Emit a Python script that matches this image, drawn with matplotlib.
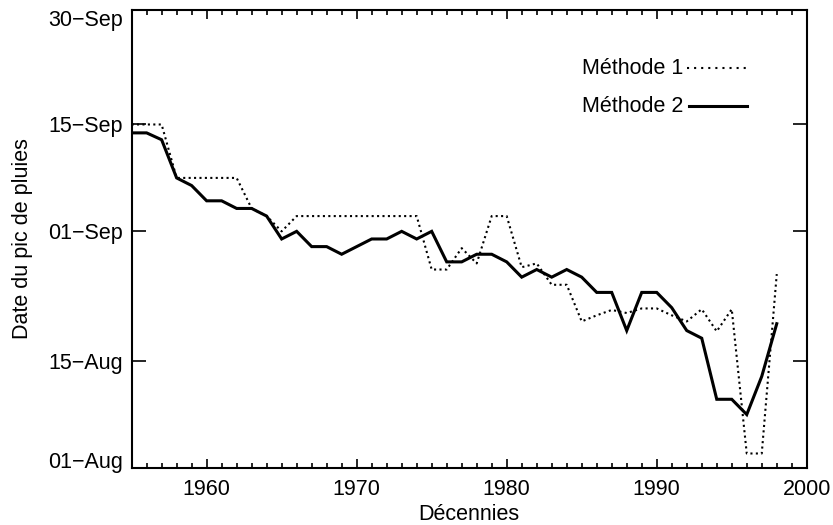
import numpy as np
import matplotlib
matplotlib.use("Agg")
import matplotlib.pyplot as plt
from matplotlib.ticker import MultipleLocator, FixedLocator

# ── Data (days after 01-Aug) ─────────────────────────────────────────────────
YEARS = list(range(1955, 1999))

METHODE_1 = [45, 45, 45, 38, 38, 38, 38, 38, 34, 33,
             31, 33, 33, 33, 33, 33, 33, 33, 33, 33,
             26, 26, 28.8, 26.8, 33, 33, 26.3, 26.8, 24, 24,
             19.2, 20, 20.7, 20.3, 20.9, 20.9, 20, 19.2, 20.8, 17.9,
             20.8, 1.9, 1.9, 25.4]

METHODE_2 = [43.9, 43.9, 43, 38, 37, 35, 35, 34, 34, 33,
             30, 31, 29, 29, 28, 29, 30, 30, 31, 30,
             31, 27, 27, 28, 28, 27, 25, 26, 25, 26,
             25, 23, 23, 18, 23, 23, 21, 18, 17, 9,
             9, 7, 12, 18.9]

YTICKS  = [0, 14, 31, 45, 60]
YLABELS = ["01\u2212Aug", "15\u2212Aug", "01\u2212Sep", "15\u2212Sep", "30\u2212Sep"]

# ── Style ─────────────────────────────────────────────────────────────────────
plt.rcParams["font.family"] = ["Liberation Sans", "DejaVu Sans"]
plt.rcParams["font.size"] = 15.5

fig = plt.figure(figsize=(8.33, 5.25), dpi=100)
ax = fig.add_axes([0.158, 0.1086, 0.8105, 0.8724])

ax.plot(YEARS, METHODE_1, color="black", lw=1.5,
        linestyle=(0, (1, 1.6)), dash_capstyle="butt")
ax.plot(YEARS, METHODE_2, color="black", lw=2.2, solid_joinstyle="miter")

ax.set_xlim(1955, 2000)
ax.set_ylim(0, 60)

ax.xaxis.set_major_locator(MultipleLocator(10))
ax.xaxis.set_minor_locator(MultipleLocator(1))
ax.yaxis.set_major_locator(FixedLocator(YTICKS))
ax.set_yticklabels(YLABELS)

ax.tick_params(axis="x", which="major", direction="in", length=6.5, width=1.2,
               top=True, pad=8)
ax.tick_params(axis="x", which="minor", direction="in", length=3.6, width=1.2,
               top=True)
ax.tick_params(axis="y", which="major", direction="in", length=10, width=1.2,
               right=True, pad=6)

labels = ax.get_yticklabels()
labels[0].set_va("baseline")
labels[-1].set_va("top")

for sp in ax.spines.values():
    sp.set_linewidth(1.5)

ax.set_xlabel("Décennies", labelpad=3)
ax.set_ylabel("Date du pic de pluies", labelpad=11)

# ── Legend (text, then line sample) ─────────────────────────────────────────
ax.text(0.667, 0.873, "Méthode 1", transform=ax.transAxes, ha="left", va="center")
ax.plot([0.822, 0.912], [0.873, 0.873], transform=ax.transAxes, color="black",
        lw=1.5, linestyle=(0, (1, 2.4)), dash_capstyle="butt", clip_on=False)
ax.text(0.667, 0.790, "Méthode 2", transform=ax.transAxes, ha="left", va="center")
ax.plot([0.825, 0.912], [0.790, 0.790], transform=ax.transAxes, color="black",
        lw=2.2, clip_on=False)

fig.savefig("out.png", dpi=100)
